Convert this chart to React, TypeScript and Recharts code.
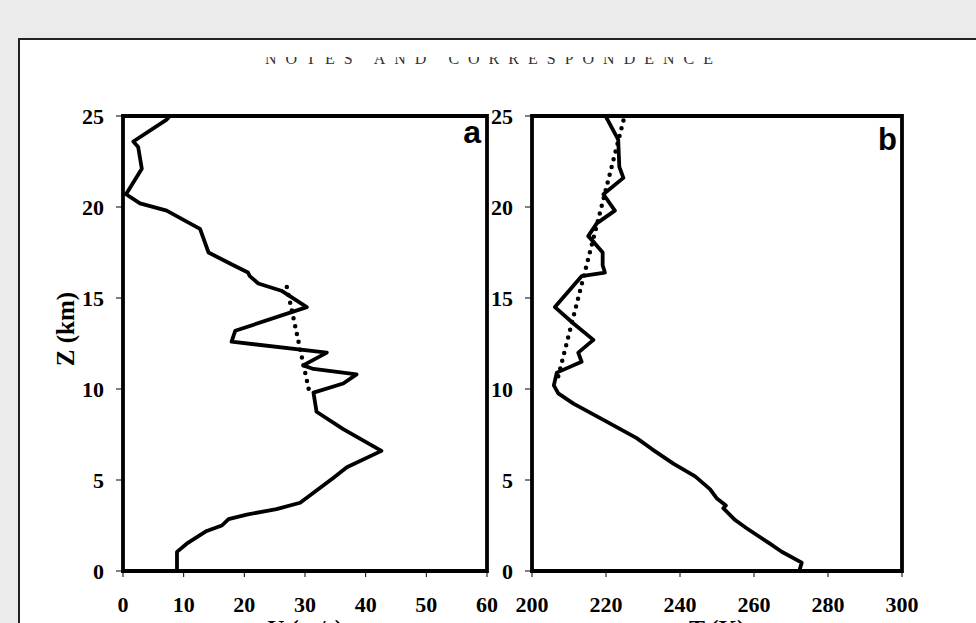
import React from "react"
import { ScatterChart, Scatter, XAxis, YAxis, ReferenceArea } from "recharts"

// panel a: wind speed profile
const uValues = [7.7, 7.2, 1.7, 2.5, 3.1, 0.5, 2.8, 7.2, 10.5, 12.7, 14.1, 18.2, 20.6, 20.9, 22.3, 26.1, 30.3, 18.5, 17.9, 33.6, 29.7, 31.4, 38.5, 36.3, 31.4, 31.9, 36.3, 42.6, 36.9, 34.6, 31.4, 29.2, 25.3, 20.4, 17.4, 16.3, 13.8, 10.5, 8.9, 8.9]
const uHeights = [25.0, 24.8, 23.6, 23.3, 22.1, 20.7, 20.2, 19.8, 19.2, 18.8, 17.5, 16.8, 16.4, 16.2, 15.8, 15.4, 14.5, 13.2, 12.6, 12.0, 11.3, 11.1, 10.8, 10.3, 9.8, 8.75, 7.8, 6.6, 5.7, 5.1, 4.3, 3.75, 3.4, 3.1, 2.85, 2.5, 2.2, 1.5, 1.05, 0.05]
const uFitValues = [27.0, 30.8]
const uFitHeights = [15.6, 9.7]

// panel b: temperature profile
const tValues = [220.0, 223.3, 223.6, 224.7, 219.3, 222.4, 217.5, 215.2, 217.0, 219.1, 219.1, 219.7, 213.4, 206.2, 211.2, 216.6, 212.5, 213.4, 206.7, 205.9, 207.1, 211.2, 219.3, 228.3, 232.4, 238.2, 244.1, 248.1, 249.9, 252.4, 251.7, 254.9, 258.0, 264.3, 267.5, 272.9, 272.3]
const tHeights = [24.95, 23.7, 22.2, 21.6, 20.7, 19.8, 19.1, 18.4, 18.0, 17.5, 16.8, 16.4, 16.2, 14.5, 13.6, 12.7, 12.0, 11.5, 10.9, 10.2, 9.76, 9.2, 8.3, 7.3, 6.7, 5.9, 5.2, 4.5, 4.0, 3.6, 3.45, 2.8, 2.35, 1.5, 1.06, 0.46, 0.05]
const tFitValues = [207.1, 224.9]
const tFitHeights = [10.7, 24.9]

const zTicks = [0, 5, 10, 15, 20, 25]
const uTicks = [0, 10, 20, 30, 40, 50, 60]
const tTicks = [200, 220, 240, 260, 280, 300]

const toPoints = (xs: number[], zs: number[]) => xs.map((x, i) => ({ x, z: zs[i] }))

const uData = toPoints(uValues, uHeights)
const uFit = toPoints(uFitValues, uFitHeights)
const tData = toPoints(tValues, tHeights)
const tFit = toPoints(tFitValues, tFitHeights)

const serif = '"Liberation Serif", "Times New Roman", serif'
const tickStyle = { fill: "#000", fontSize: 22, fontWeight: "bold", fontFamily: serif }

const noDot = () => <g />

function Panel({ data, fit, domain, ticks, title, left, width, margin }: any) {
  return (
    <div style={{ position: "absolute", left, top: 0 }}>
      <ScatterChart width={width} height={623} margin={margin}>
        <XAxis
          type="number"
          dataKey="x"
          domain={domain}
          ticks={ticks}
          height={30}
          axisLine={false}
          tickLine={{ stroke: "#000" }}
          tickSize={6}
          tickMargin={19}
          tick={tickStyle}
          label={{ value: title, position: "bottom", offset: 18, style: { ...tickStyle, fontSize: 24 } }}
        />
        <YAxis
          type="number"
          dataKey="z"
          domain={[0, 25]}
          ticks={zTicks}
          width={50}
          axisLine={false}
          tickLine={{ stroke: "#000" }}
          tickSize={7}
          tickMargin={12}
          tick={tickStyle}
        />
        <Scatter
          data={data}
          shape={noDot}
          line={{ stroke: "#000", strokeWidth: 3.8, strokeLinejoin: "round" }}
          isAnimationActive={false}
        />
        <Scatter
          data={fit}
          shape={noDot}
          line={{ stroke: "#000", strokeWidth: 4.5, strokeDasharray: "0 8", strokeLinecap: "round" }}
          isAnimationActive={false}
        />
        <ReferenceArea
          x1={domain[0]}
          x2={domain[1]}
          y1={0}
          y2={25}
          fill="none"
          stroke="#000"
          strokeWidth={3.8}
          ifOverflow="visible"
        />
      </ScatterChart>
    </div>
  )
}

export default function App() {
  return (
    <div style={{ position: "absolute", left: 0, top: 0, width: 976, height: 623, background: "#ebebeb", overflow: "hidden" }}>
      <div
        style={{
          position: "absolute",
          left: 18,
          top: 38,
          right: 0,
          bottom: 0,
          background: "#fff",
          borderTop: "2px solid #222",
          borderLeft: "2px solid #222",
        }}
      />
      <Panel
        data={uData}
        fit={uFit}
        domain={[0, 60]}
        ticks={uTicks}
        title="U (m/s)"
        left={0}
        width={500}
        margin={{ top: 116, right: 13, bottom: 22, left: 73 }}
      />
      <Panel
        data={tData}
        fit={tFit}
        domain={[200, 300]}
        ticks={tTicks}
        title="T (K)"
        left={470}
        width={506}
        margin={{ top: 116, right: 74, bottom: 22, left: 12 }}
      />
      <svg width={976} height={623} style={{ position: "absolute", left: 0, top: 0, pointerEvents: "none" }}>
        <defs>
          <clipPath id="titleClip">
            <rect x={0} y={57} width={976} height={9} />
          </clipPath>
        </defs>
        <text
          x={265}
          y={64}
          textLength={448}
          lengthAdjust="spacing"
          clipPath="url(#titleClip)"
          style={{ fontFamily: serif, fontSize: 16, fill: "#333" }}
        >
          NOTES AND CORRESPONDENCE
        </text>
        <text
          transform="translate(74 329) rotate(-90)"
          textAnchor="middle"
          style={{ fontFamily: serif, fontSize: 25, fontWeight: "bold", fill: "#000" }}
        >
          Z (km)
        </text>
        <text x={481} y={143} textAnchor="end" style={{ fontFamily: '"Liberation Sans", Arial, sans-serif', fontSize: 32, fontWeight: "bold", fill: "#000" }}>
          a
        </text>
        <text x={897} y={150} textAnchor="end" style={{ fontFamily: '"Liberation Sans", Arial, sans-serif', fontSize: 31, fontWeight: "bold", fill: "#000" }}>
          b
        </text>
      </svg>
    </div>
  )
}
